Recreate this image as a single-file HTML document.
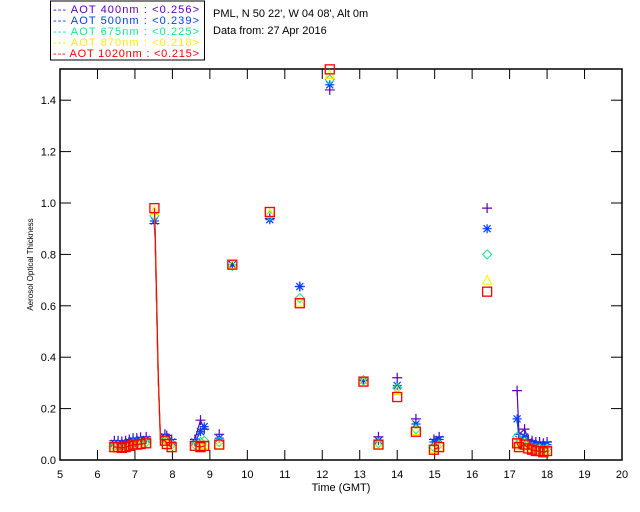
<!DOCTYPE html>
<html><head><meta charset="utf-8"><style>
body{margin:0;background:#fff;}
svg{display:block;font-family:"Liberation Sans",sans-serif;}
</style></head><body>
<svg id="c" width="640" height="512" viewBox="0 0 640 512"></svg>
<script>
const times=[6.45,6.55,6.65,6.75,6.85,6.95,7.05,7.15,7.3,7.52,7.54,7.56,7.58,7.6,7.62,7.65,7.68,7.8,7.85,7.98,8.6,8.75,8.85,9.25,9.6,10.6,11.4,12.2,13.1,13.5,14.0,14.5,14.98,15.12,16.4,17.2,17.25,17.4,17.5,17.6,17.7,17.8,17.9,18.0];
const marked=[1,1,1,1,1,1,1,1,1,1,0,0,0,0,0,0,0,1,1,1,1,1,1,1,1,1,1,1,1,1,1,1,1,1,1,1,1,1,1,1,1,1,1,1];
const aot400=[0.075,0.075,0.072,0.075,0.08,0.085,0.085,0.088,0.09,0.92,0.85,0.72,0.58,0.45,0.32,0.2,0.1,0.1,0.095,0.08,0.08,0.155,0.12,0.1,0.76,0.94,0.675,1.44,0.31,0.09,0.32,0.16,0.08,0.09,0.98,0.27,0.1,0.12,0.08,0.075,0.07,0.07,0.065,0.07];
const aot500=[0.065,0.065,0.062,0.065,0.07,0.075,0.075,0.078,0.08,0.93,0.86,0.73,0.59,0.46,0.33,0.2,0.09,0.09,0.085,0.07,0.07,0.11,0.13,0.085,0.76,0.935,0.675,1.46,0.31,0.075,0.29,0.14,0.07,0.08,0.9,0.16,0.08,0.09,0.07,0.065,0.06,0.06,0.055,0.06];
const aot675=[0.055,0.055,0.052,0.055,0.06,0.065,0.065,0.068,0.07,0.95,0.87,0.74,0.6,0.47,0.33,0.2,0.08,0.08,0.075,0.06,0.06,0.07,0.075,0.07,0.755,0.95,0.63,1.48,0.31,0.065,0.28,0.12,0.05,0.06,0.8,0.09,0.06,0.07,0.055,0.05,0.045,0.045,0.04,0.045];
const aot870=[0.05,0.05,0.048,0.05,0.055,0.06,0.06,0.063,0.065,0.97,0.88,0.75,0.61,0.47,0.34,0.21,0.08,0.075,0.065,0.055,0.055,0.055,0.06,0.06,0.76,0.96,0.615,1.5,0.305,0.06,0.27,0.115,0.045,0.05,0.7,0.07,0.055,0.065,0.05,0.045,0.04,0.04,0.035,0.04];
const aot1020=[0.05,0.05,0.047,0.05,0.055,0.06,0.06,0.062,0.065,0.98,0.89,0.76,0.62,0.48,0.34,0.21,0.08,0.075,0.062,0.05,0.055,0.05,0.055,0.06,0.76,0.965,0.61,1.52,0.305,0.06,0.245,0.11,0.04,0.05,0.655,0.065,0.05,0.06,0.045,0.04,0.035,0.035,0.03,0.035];
const xTicks=[5,6,7,8,9,10,11,12,13,14,15,16,17,18,19,20];
const yTicks=[0,0.2,0.4,0.6,0.8,1.0,1.2,1.4];
const seriesNames=["AOT  400nm","AOT  500nm","AOT  675nm","AOT  870nm","AOT 1020nm"];
const seriesMeans=["<0.256>","<0.239>","<0.225>","<0.218>","<0.215>"];

const NS="http://www.w3.org/2000/svg";
const svg=document.getElementById('c');
const L=60,R=622,T=69,B=460;
const xs=t=>L+(t-5)*(R-L)/15;
const ys=v=>B-v*257;
function mk(tag,attrs,parent){const e=document.createElementNS(NS,tag);for(const k in attrs)e.setAttribute(k,attrs[k]);(parent||svg).appendChild(e);return e;}

const box=mk('rect',{x:L,y:T,width:R-L,height:B-T,fill:'none',stroke:'#000','stroke-width':1.5});


xTicks.forEach(t=>{
  const x=xs(t);
  const l1=mk('line',{x1:x,y1:B,x2:x,y2:B-10,stroke:'#000'});
  
  
  const l2=mk('line',{x1:x,y1:T,x2:x,y2:T+10,stroke:'#000'});
  
  
  const tx=mk('text',{x:x,y:B+18,'font-size':11,'text-anchor':'middle'});tx.textContent=t;
  
  
});
yTicks.forEach(v=>{
  const y=ys(v);
  const l1=mk('line',{x1:L,y1:y,x2:L+11,y2:y,stroke:'#000'});
  
  
  const l2=mk('line',{x1:R,y1:y,x2:R-11,y2:y,stroke:'#000'});
  
  
  const tx=mk('text',{x:L-4,y:y+4,'font-size':11,'text-anchor':'end'});tx.textContent=v.toFixed(1);
  
  
});
const xt=mk('text',{x:(L+R)/2,y:491,'font-size':11,'text-anchor':'middle'});xt.textContent='Time (GMT)';


const yt=mk('text',{x:33,y:(T+B)/2,'font-size':8,'text-anchor':'middle',transform:`rotate(-90 33 ${(T+B)/2})`});yt.textContent='Aerosol Optical Thickness';



const series=[aot400,aot500,aot675,aot870,aot1020];
const colors=['#6000b0','#0040ff','#10e890','#ffee00','#ff0000'];
const shapes=['plus','star','diamond','tri','square'];
function marker(shape,x,y,c,g){
  if(shape==='plus'){mk('path',{d:`M${x-5} ${y}H${x+5}M${x} ${y-5}V${y+5}`,stroke:c,'stroke-width':1.2,fill:'none'},g);}
  else if(shape==='star'){mk('path',{d:`M${x-4.5} ${y}H${x+4.5}M${x} ${y-4.5}V${y+4.5}M${x-3.5} ${y-3.5}L${x+3.5} ${y+3.5}M${x-3.5} ${y+3.5}L${x+3.5} ${y-3.5}`,stroke:c,'stroke-width':1.2,fill:'none'},g);}
  else if(shape==='diamond'){mk('path',{d:`M${x} ${y-4.5}L${x+4.5} ${y}L${x} ${y+4.5}L${x-4.5} ${y}Z`,stroke:c,fill:'none'},g);}
  else if(shape==='tri'){mk('path',{d:`M${x} ${y-4.5}L${x+4.5} ${y+4}L${x-4.5} ${y+4}Z`,stroke:c,fill:'none'},g);}
  else {mk('rect',{x:x-4.5,y:y-4.5,width:9,height:9,stroke:c,'stroke-width':1.3,fill:'none'},g);}
}
series.forEach((vals,si)=>{
  const g=mk('g',{});
  
  
  let d='';
  for(let i=0;i<times.length;i++){
    const cmd=(i>0&&times[i]-times[i-1]<0.2)?'L':'M';
    d+=cmd+xs(times[i]).toFixed(1)+' '+ys(vals[i]).toFixed(1);
  }
  const p=mk('path',{d:d,stroke:colors[si],fill:'none','stroke-width':1.2},g);
  
  
  for(let i=0;i<times.length;i++){ if(marked[i]) marker(shapes[si],xs(times[i]),ys(vals[i]),colors[si],g); }
});

const lg=mk('g',{});


mk('rect',{x:50.5,y:1,width:154,height:59,fill:'#fff',stroke:'#000'},lg);
seriesNames.forEach((n,i)=>{
  const y=13+i*11;
  const t=mk('text',{x:53,y:y,'font-size':11,fill:colors[i],'xml:space':'preserve',textLength:146,lengthAdjust:'spacing'},lg);
  t.textContent='---  '+n+' : '+seriesMeans[i];
  
  
});
const t1=mk('text',{x:213,y:17,'font-size':11});t1.textContent="PML, N 50 22', W 04 08', Alt 0m";


const t2=mk('text',{x:213,y:34,'font-size':11});t2.textContent="Data from: 27 Apr 2016";


</script>
</body></html>
